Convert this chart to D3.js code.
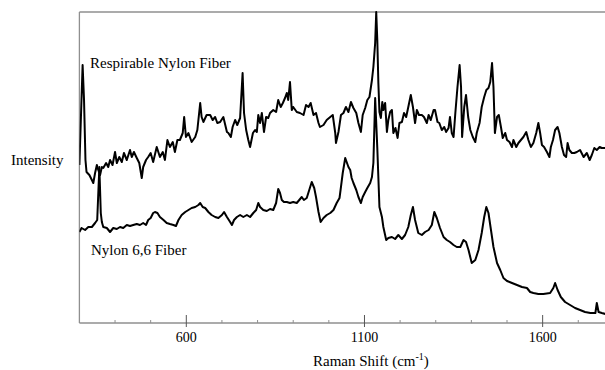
<!DOCTYPE html>
<html>
<head>
<meta charset="utf-8">
<script src="https://cdn.jsdelivr.net/npm/d3@7"></script>
<style>
  body { margin: 0; background: #fff; }
  svg { display: block; }
  text { font-family: "Liberation Serif", "Times New Roman", serif; fill: #000; }
</style>
</head>
<body>
<svg id="chart" width="605" height="370"></svg>
<script>
// Raman spectra (arbitrary intensity units)
const respirableShift = [300, 309, 313, 317, 320, 328, 335, 339, 344, 349, 353, 358, 363, 367, 375, 381, 386, 393, 400, 405, 412, 419, 425, 433, 442, 447, 453, 461, 468, 475, 479, 487, 493, 500, 507, 517, 526, 534, 540, 547, 554, 562, 568, 575, 582, 590, 594, 599, 606, 615, 625, 631, 639, 643, 648, 657, 667, 674, 681, 687, 695, 704, 714, 718, 725, 730, 737, 743, 751, 758, 762, 768, 774, 779, 787, 793, 798, 802, 807, 812, 818, 824, 830, 835, 844, 852, 858, 865, 871, 877, 882, 886, 891, 896, 900, 910, 919, 929, 936, 943, 949, 957, 964, 971, 975, 985, 994, 1004, 1011, 1018, 1020, 1027, 1034, 1041, 1048, 1055, 1062, 1069, 1077, 1083, 1090, 1095, 1102, 1108, 1114, 1121, 1125, 1130, 1133, 1136, 1139, 1142, 1146, 1150, 1153, 1158, 1163, 1167, 1172, 1177, 1181, 1187, 1193, 1198, 1205, 1211, 1217, 1223, 1230, 1236, 1242, 1247, 1253, 1261, 1267, 1275, 1280, 1286, 1294, 1298, 1305, 1310, 1317, 1324, 1329, 1336, 1340, 1345, 1350, 1355, 1361, 1367, 1371, 1374, 1380, 1385, 1391, 1397, 1404, 1411, 1415, 1423, 1429, 1436, 1442, 1448, 1453, 1458, 1462, 1466, 1472, 1477, 1483, 1488, 1495, 1500, 1507, 1514, 1518, 1526, 1532, 1539, 1546, 1554, 1560, 1567, 1574, 1582, 1588, 1593, 1598, 1604, 1612, 1619, 1623, 1629, 1635, 1642, 1647, 1654, 1660, 1666, 1670, 1675, 1682, 1689, 1696, 1705, 1715, 1724, 1732, 1738, 1745, 1752, 1760, 1766, 1776];
const respirableIntensity = [158, 258, 223, 163, 151, 148, 143, 140, 150, 158, 153, 148, 156, 155, 160, 156, 163, 158, 171, 160, 166, 161, 170, 163, 173, 166, 171, 165, 160, 145, 156, 163, 166, 170, 161, 176, 166, 171, 163, 183, 176, 181, 171, 183, 183, 190, 206, 186, 190, 181, 186, 193, 220, 206, 201, 208, 208, 203, 206, 200, 201, 206, 191, 190, 186, 196, 203, 198, 205, 250, 210, 193, 183, 176, 190, 193, 191, 208, 200, 210, 191, 206, 205, 210, 213, 211, 223, 216, 220, 225, 230, 223, 241, 213, 216, 211, 210, 208, 218, 216, 220, 208, 210, 200, 196, 198, 203, 206, 208, 190, 180, 191, 208, 210, 216, 211, 221, 215, 210, 200, 191, 208, 215, 223, 226, 243, 256, 280, 311, 283, 240, 211, 205, 221, 213, 220, 191, 203, 211, 213, 190, 195, 185, 200, 201, 210, 206, 216, 228, 216, 200, 213, 208, 208, 206, 200, 208, 203, 213, 213, 201, 200, 193, 196, 191, 195, 206, 190, 186, 210, 236, 258, 236, 186, 216, 228, 206, 193, 186, 181, 190, 200, 216, 226, 233, 235, 241, 260, 236, 190, 206, 208, 196, 185, 190, 183, 181, 176, 183, 176, 180, 183, 186, 191, 183, 176, 180, 190, 200, 190, 178, 176, 171, 166, 176, 183, 193, 196, 190, 176, 168, 166, 180, 173, 170, 170, 171, 173, 166, 170, 163, 168, 175, 173, 176, 175, 175];

const nylonShift = [300, 306, 316, 325, 335, 344, 350, 356, 360, 363, 367, 377, 386, 395, 405, 414, 423, 433, 442, 451, 461, 470, 479, 487, 493, 500, 507, 512, 519, 526, 536, 545, 554, 564, 571, 578, 587, 597, 606, 615, 625, 634, 639, 646, 653, 662, 671, 681, 690, 700, 706, 714, 723, 728, 734, 742, 751, 760, 770, 779, 788, 796, 802, 807, 816, 826, 835, 844, 852, 858, 863, 868, 874, 882, 891, 900, 910, 917, 924, 930, 938, 945, 952, 959, 964, 971, 977, 985, 994, 1004, 1013, 1022, 1030, 1034, 1039, 1046, 1050, 1055, 1060, 1064, 1069, 1077, 1083, 1090, 1095, 1102, 1108, 1116, 1121, 1125, 1130, 1136, 1142, 1149, 1153, 1161, 1167, 1177, 1186, 1195, 1205, 1214, 1223, 1230, 1236, 1242, 1251, 1261, 1270, 1280, 1289, 1296, 1303, 1312, 1322, 1331, 1340, 1350, 1359, 1369, 1378, 1385, 1392, 1401, 1411, 1420, 1429, 1436, 1442, 1448, 1455, 1462, 1472, 1481, 1490, 1500, 1514, 1528, 1542, 1556, 1565, 1574, 1588, 1602, 1621, 1630, 1635, 1642, 1651, 1663, 1677, 1691, 1705, 1719, 1734, 1748, 1752, 1757, 1766, 1776];
const nylonIntensity = [91, 95, 93, 96, 96, 100, 103, 156, 110, 101, 96, 95, 91, 95, 94, 96, 95, 98, 97, 98, 99, 98, 100, 98, 103, 105, 110, 111, 110, 106, 103, 100, 99, 98, 97, 103, 108, 111, 113, 115, 116, 118, 120, 116, 115, 111, 108, 106, 105, 108, 111, 106, 101, 98, 103, 106, 108, 106, 108, 106, 110, 113, 120, 116, 113, 112, 114, 113, 120, 134, 130, 123, 121, 121, 120, 121, 120, 123, 126, 123, 125, 133, 141, 135, 126, 111, 101, 105, 108, 110, 113, 120, 125, 136, 150, 165, 161, 156, 153, 145, 140, 133, 126, 120, 126, 131, 135, 140, 146, 160, 225, 175, 116, 106, 96, 83, 85, 86, 84, 88, 84, 88, 96, 108, 116, 103, 90, 88, 91, 93, 98, 111, 105, 95, 86, 83, 81, 78, 76, 76, 83, 81, 73, 60, 63, 73, 90, 106, 116, 110, 93, 76, 60, 53, 45, 42, 40, 38, 36, 35, 31, 30, 29, 29, 30, 35, 40, 33, 26, 21, 18, 15, 13, 11, 10, 10, 20, 11, 10, 9];

const majorTicks = [600, 1100, 1600];
const minorTicks = [400, 500, 700, 800, 900, 1000, 1200, 1300, 1400, 1500, 1700];

const margin = { left: 79.4, top: 12, right: 605, bottom: 323 };
const axisColor = '#8f8f8f';

const svg = d3.select('#chart');

const x = d3.scaleLinear()
  .domain([300, 1775])
  .range([margin.left, margin.right]);

const y = d3.scaleLinear()
  .domain([0, 311])
  .range([margin.bottom, margin.top]);

svg.append('defs')
  .append('clipPath')
  .attr('id', 'plot-clip')
  .append('rect')
  .attr('x', margin.left)
  .attr('y', margin.top - 2)
  .attr('width', margin.right - margin.left)
  .attr('height', margin.bottom - margin.top + 2);

// frame: top, left and bottom lines
svg.append('line')
  .attr('x1', margin.left).attr('x2', margin.right)
  .attr('y1', margin.top).attr('y2', margin.top)
  .attr('stroke', axisColor).attr('stroke-width', 1.3);

svg.append('line')
  .attr('x1', margin.left).attr('x2', margin.left)
  .attr('y1', margin.top).attr('y2', margin.bottom)
  .attr('stroke', axisColor).attr('stroke-width', 1.3);

const xAxis = svg.append('g')
  .attr('transform', `translate(0, ${margin.bottom})`);

xAxis.append('line')
  .attr('x1', margin.left).attr('x2', margin.right)
  .attr('stroke', axisColor).attr('stroke-width', 1.3);

xAxis.selectAll('.minor')
  .data(minorTicks)
  .enter()
  .append('line')
  .attr('class', 'minor')
  .attr('x1', d => x(d)).attr('x2', d => x(d))
  .attr('y1', -3).attr('y2', 0)
  .attr('stroke', axisColor).attr('stroke-width', 1);

xAxis.selectAll('.major')
  .data(majorTicks)
  .enter()
  .append('line')
  .attr('class', 'major')
  .attr('x1', d => x(d)).attr('x2', d => x(d))
  .attr('y1', -8).attr('y2', 4)
  .attr('stroke', '#555').attr('stroke-width', 1);

xAxis.selectAll('.tick-label')
  .data(majorTicks)
  .enter()
  .append('text')
  .attr('class', 'tick-label')
  .attr('x', d => x(d))
  .attr('y', 18.7)
  .attr('text-anchor', 'middle')
  .style('font-size', '14px')
  .text(d => d);

// spectra
const line = d3.line()
  .x(d => x(d[0]))
  .y(d => y(d[1]));

const series = [
  d3.zip(respirableShift, respirableIntensity),
  d3.zip(nylonShift, nylonIntensity),
];

svg.append('g')
  .attr('clip-path', 'url(#plot-clip)')
  .selectAll('path')
  .data(series)
  .enter()
  .append('path')
  .attr('d', line)
  .attr('fill', 'none')
  .attr('stroke', '#000')
  .attr('stroke-width', 2)
  .attr('stroke-linejoin', 'round');

// labels
svg.append('text')
  .attr('x', 90).attr('y', 67.5)
  .style('font-size', '15px')
  .text('Respirable Nylon Fiber');

svg.append('text')
  .attr('x', 91).attr('y', 255)
  .style('font-size', '15px')
  .text('Nylon 6,6 Fiber');

svg.append('text')
  .attr('x', 11).attr('y', 165)
  .style('font-size', '15px')
  .text('Intensity');

const xTitle = svg.append('text')
  .attr('x', 313).attr('y', 366)
  .style('font-size', '15px');

xTitle.append('tspan').text('Raman Shift (cm');
xTitle.append('tspan').attr('dy', -6).style('font-size', '10px').text('-1');
xTitle.append('tspan').attr('dy', 6).text(')');
</script>
</body>
</html>
